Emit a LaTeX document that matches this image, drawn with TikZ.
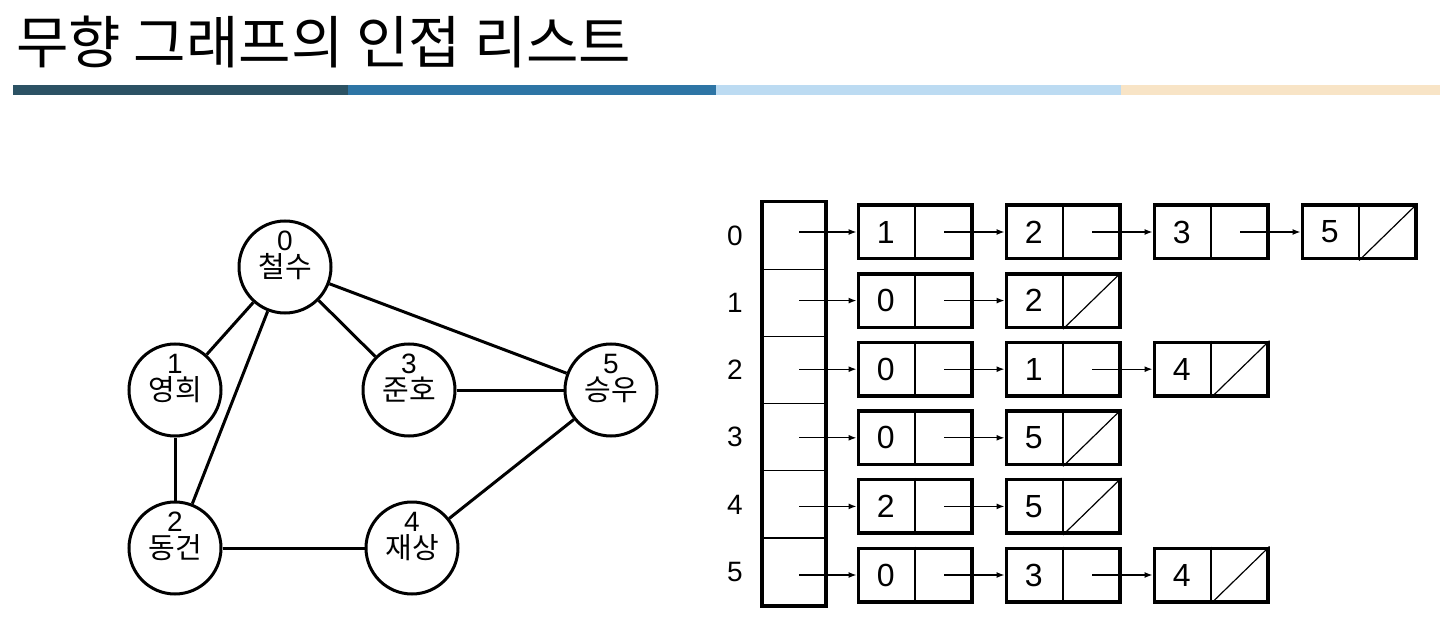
\documentclass[tikz,border=0pt]{standalone}
\usepackage{fontspec}
\setmainfont{Liberation Sans}
\newfontfamily\kofont{Noto Sans CJK KR}
\usetikzlibrary{arrows.meta,calc}

\definecolor{barA}{HTML}{2C5264}
\definecolor{barB}{HTML}{2E75A5}
\definecolor{barC}{HTML}{BCDBF2}
\definecolor{barD}{HTML}{F8E4C6}

\tikzset{
	vertex/.style={circle, draw, line width=3pt, minimum size=92pt, inner sep=0pt, font=\kofont\fontsize{29}{32}\selectfont},
	vnum/.style={inner sep=0pt, font=\fontsize{28}{30}\selectfont},
	edge/.style={line width=3pt},
	cell/.style={draw, line width=1.2pt, minimum width=63pt, minimum height=67.2pt, inner sep=0pt},
	listbox/.style={draw, line width=3.5pt, minimum width=113.5pt, minimum height=53.5pt, inner sep=0pt},
	val/.style={inner sep=0pt, font=\fontsize{32}{34}\selectfont},
	idx/.style={inner sep=0pt, font=\fontsize{28}{30}\selectfont},
	ptr/.style={line width=1.3pt, -{Latex[length=8pt,width=6pt]}},
	nullptr/.style={line width=1.2pt}
}

\begin{document}
\begin{tikzpicture}[x=1pt, y=-1pt]
	\useasboundingbox (0,0) rectangle (1440,628);
	% title and bars
	\node[anchor=base west, inner sep=0pt, font=\kofont\fontsize{57}{62}\selectfont] (title) at (16,64) {무향 그래프의 인접 리스트};
	\fill[barA] (13,85) rectangle (348,95);
	\fill[barB] (348,85) rectangle (716,95);
	\fill[barC] (716,85) rectangle (1121,95);
	\fill[barD] (1121,85) rectangle (1440,95);

	% graph
	\foreach \i/\name/\pos in {0/철수/{285,267}, 1/영희/{175,390}, 2/동건/{175,548}, 3/준호/{409,390}, 4/재상/{412,548}, 5/승우/{611,390}}
	{
		\node[vertex] (v\i) at (\pos) {\name};
		\node[vnum] (n\i) at ([yshift=26pt]v\i.center) {\i};
	}
	\draw[edge] (v0) -- (v1);
	\draw[edge] (v0) -- (v2);
	\draw[edge] (v0) -- (v3);
	\draw[edge] (v0) -- (v5);
	\draw[edge] (v1) -- (v2);
	\draw[edge] (v3) -- (v5);
	\draw[edge] (v2) -- (v4);
	\draw[edge] (v4) -- (v5);

	% array of heads
	\foreach \r in {0, ..., 5}
	{
		\node[cell] (arr-\r) at (794, 235.6+67.2*\r) {};
		\node[idx] (idx-\r) at (735, 235.6+67.2*\r) {\r};
		\coordinate (src-\r) at ([xshift=5pt]arr-\r.center);
	}
	\draw[line width=3.5pt] (arr-0.north west) rectangle (arr-5.south east);

	% adjacency lists
	\foreach \r/\vals/\n in {0/{1,2,3,5}/3, 1/{0,2}/1, 2/{0,1,4}/2, 3/{0,5}/1, 4/{2,5}/1, 5/{0,3,4}/2}
	{
		\foreach \v [count=\c from 0] in \vals
		{
			\node[listbox] (b-\r-\c) at (915+148*\c, 232+68.6*\r) {};
			\draw[line width=1.2pt] (b-\r-\c.north) -- (b-\r-\c.south);
			\node[val] (val-\r-\c) at ($(b-\r-\c.west)!0.5!(b-\r-\c.center)$) {\v};
			\ifnum\c=0
				\draw[ptr] (src-\r |- b-\r-\c.west) -- (b-\r-\c.west);
			\else
				\pgfmathtruncatemacro\p{\c-1}
				\draw[ptr] ($(b-\r-\p.center)!0.5!(b-\r-\p.east)$) -- (b-\r-\c.west);
			\fi
			\ifnum\c=\n
				\draw[nullptr] (b-\r-\c.south) -- (b-\r-\c.north east);
			\fi
		}
	}
\end{tikzpicture}
\end{document}
